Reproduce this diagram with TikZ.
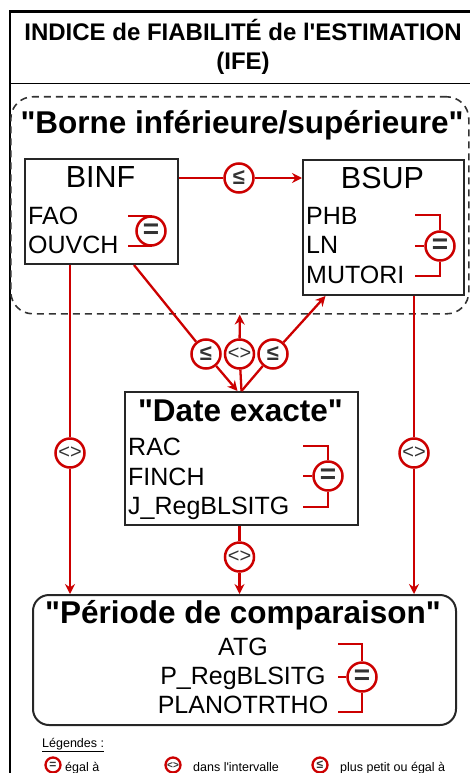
\documentclass[tikz,border=0pt]{standalone}
\usepackage{fontspec}
\setmainfont{Liberation Sans}
\usetikzlibrary{arrows.meta}
\definecolor{rougeife}{HTML}{CC0000}
\definecolor{grisfonce}{HTML}{333333}
\newcommand{\taille}[1]{\fontsize{#1}{#1}\selectfont}
\newcommand{\guill}{\textquotedbl}

\begin{document}
\begin{tikzpicture}[x=1pt, y=-1pt,
    cadre/.style={draw=black!85, line width=2pt, anchor=north west, inner sep=0pt},
    relation/.style={circle, draw=rougeife, line width=2.5pt, fill=white, inner sep=0pt, minimum size=29pt, text=grisfonce, font=\bfseries\taille{22}},
    egal/.style={relation, font=\bfseries\taille{28}},
    intervalle/.style={relation, font=\taille{20}},
    petiterel/.style={circle, draw=rougeife, line width=2.3pt, fill=white, inner sep=0pt, minimum size=15pt, text=grisfonce, font=\bfseries\taille{12}},
    lien/.style={draw=rougeife, line width=2.3pt},
    fleche/.style={lien, -{Stealth[length=10pt, width=10pt]}},
    titrebloc/.style={font=\bfseries\taille{31.5}, inner sep=0pt, anchor=base},
    nombloc/.style={font=\taille{30.5}, inner sep=0pt, anchor=base},
    champ/.style={font=\taille{25}, inner sep=0pt, anchor=base west},
    champc/.style={font=\taille{25}, inner sep=0pt, anchor=base},
    legtexte/.style={font=\taille{12.5}, inner sep=0pt, anchor=base west}]
    \useasboundingbox (0,0) rectangle (470,773);
    % Cadre et titre
    \node[cadre, draw=black, line width=2.5pt, minimum width=520pt, minimum height=820pt] (page) at (8.5,10.5) {};
    \node[cadre, draw=black, line width=1.3pt, minimum width=500pt, minimum height=72pt] (entete) at (10,11) {};
    \node[font=\bfseries\taille{24}, inner sep=0pt, anchor=base] (titre1) at (243,41) {INDICE de FIABILITÉ de l\textquotesingle ESTIMATION};
    \node[font=\bfseries\taille{24}, inner sep=0pt, anchor=base] (titre2) at (243,70) {(IFE)};
    % Groupe des bornes
    \node[cadre, draw=grisfonce, line width=1.6pt, dash pattern=on 7pt off 5pt, rounded corners=22pt, minimum width=458pt, minimum height=217pt] (groupe) at (10,96) {};
    \node[titrebloc] (tgroupe) at (242,133) {\guill Borne inférieure/supérieure\guill};
    % BINF
    \node[cadre, minimum width=153pt, minimum height=105pt] (binf) at (24,158) {};
    \node[nombloc] (nbinf) at (100.5,187) {BINF};
    \node[champ] (fao) at (28,224) {FAO};
    \node[champ] (ouvch) at (28,253) {OUVCH};
    \node[egal] (egbinf) at (151,231) {=};
    \draw[lien] ([shift={(-23,-15)}]egbinf.center) -| (egbinf);
    \draw[lien] ([shift={(-23,15)}]egbinf.center) -| (egbinf);
    % BSUP
    \node[cadre, minimum width=161pt, minimum height=135pt] (bsup) at (302,159) {};
    \node[nombloc] (nbsup) at (382.5,188) {BSUP};
    \node[champ] (phb) at (306,224) {PHB};
    \node[champ] (ln) at (306,253) {LN};
    \node[champ] (mutori) at (306,283) {MUTORI};
    \node[egal] (egbsup) at (440,246) {=};
    \draw[lien] ([shift={(-25,-31)}]egbsup.center) -| (egbsup);
    \draw[lien] ([shift={(-25,30)}]egbsup.center) -| (egbsup);
    \draw[lien] ([shift={(-25,0)}]egbsup.center) -- (egbsup);
    % Date exacte
    \node[cadre, minimum width=233pt, minimum height=133pt] (date) at (124,391) {};
    \node[titrebloc] (tdate) at (240.5,421) {\guill Date exacte\guill};
    \node[champ] (rac) at (128,455) {RAC};
    \node[champ] (finch) at (128,485) {FINCH};
    \node[champ] (jreg) at (128,514) {J\_RegBLSITG};
    \node[egal] (egdate) at (328,476) {=};
    \draw[lien] ([shift={(-25,-30)}]egdate.center) -| (egdate);
    \draw[lien] ([shift={(-25,31)}]egdate.center) -| (egdate);
    \draw[lien] ([shift={(-25,0)}]egdate.center) -- (egdate);
    % Periode de comparaison
    \node[cadre, rounded corners=16pt, minimum width=423pt, minimum height=130pt] (periode) at (32,594) {};
    \node[titrebloc] (tperiode) at (243,623) {\guill Période de comparaison\guill};
    \node[champc] (atg) at (243,655) {ATG};
    \node[champc] (preg) at (243,684) {P\_RegBLSITG};
    \node[champc] (plano) at (243,713) {PLANOTRTHO};
    \node[egal] (egperiode) at (362,677) {=};
    \draw[lien] ([shift={(-24,-33)}]egperiode.center) -| (egperiode);
    \draw[lien] ([shift={(-24,35)}]egperiode.center) -| (egperiode);
    \draw[lien] ([shift={(-24,0)}]egperiode.center) -- (egperiode);
    % Relations
    \node[relation] (infsup) at (239,178) {≤};
    \node[relation] (infdate) at (206,354) {≤};
    \node[intervalle] (dansgroupe) at (239.5,354) {<>};
    \node[relation] (datesup) at (273,354) {≤};
    \node[intervalle] (dansinf) at (70,453) {<>};
    \node[intervalle] (danssup) at (414,453) {<>};
    \node[intervalle] (danscomp) at (239.5,557) {<>};
    \draw[lien] (binf.east |- infsup) -- (infsup);
    \draw[fleche] (infsup) -- (bsup.west |- infsup);
    \draw[lien] ([xshift=32.5pt]binf.south) -- (infdate);
    \draw[fleche] (infdate) -- ([xshift=-4pt]date.north);
    \draw[lien] (date.north) -- (dansgroupe);
    \draw[fleche] (dansgroupe) -- (groupe.south);
    \draw[lien] (date.north) -- (datesup);
    \draw[fleche] (datesup) -- ([xshift=-58pt]bsup.south);
    \draw[lien] (binf.south -| dansinf) -- (dansinf);
    \draw[fleche] (dansinf) -- (periode.north -| dansinf);
    \draw[lien] (bsup.south -| danssup) -- (danssup);
    \draw[fleche] (danssup) -- (periode.north -| danssup);
    \draw[lien] (date.south -| danscomp) -- (danscomp);
    \draw[fleche] (danscomp) -- (periode.north -| danscomp);
    % Legendes
    \node[legtexte] (legende) at (42,747) {\underline{Légendes :}};
    \node[petiterel] (legegal) at (53,765) {=};
    \node[legtexte] (tlegegal) at (65,771) {égal à};
    \node[petiterel, font=\bfseries\taille{10}] (legdans) at (173,765) {<>};
    \node[legtexte] (tlegdans) at (193,771) {dans l\textquotesingle intervalle};
    \node[petiterel] (leginf) at (320,765) {≤};
    \node[legtexte] (tleginf) at (340,771) {plus petit ou égal à};
\end{tikzpicture}
\end{document}
